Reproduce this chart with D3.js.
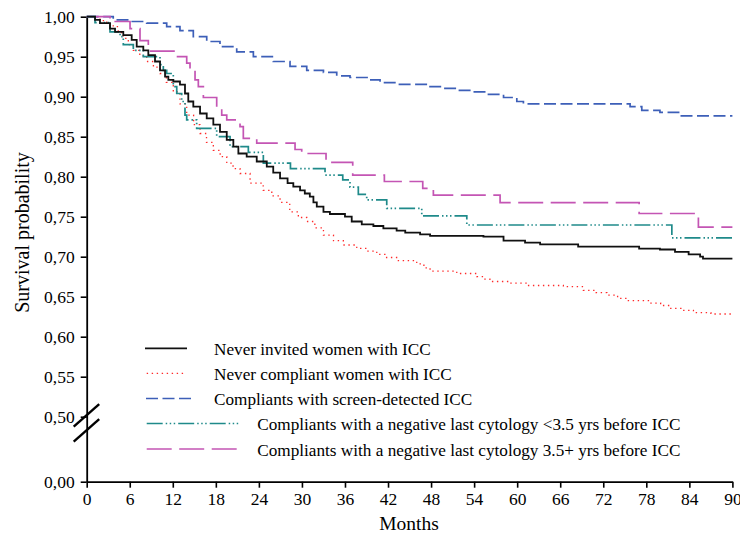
<!DOCTYPE html>
<html>
<head>
<meta charset="utf-8">
<script src="https://cdn.jsdelivr.net/npm/d3@7"></script>
<style>
  html, body { margin: 0; padding: 0; background: #fff; }
  svg { display: block; }
  text { font-family: "Liberation Serif", "Times New Roman", serif; fill: #000; }
</style>
</head>
<body>
<svg id="chart" width="740" height="534"></svg>
<script>
// Kaplan-Meier survival estimates: [month, survival probability] at each step
const neverInvited = [
  [0, 1], [1.16, 0.996], [1.85, 0.992], [3.25, 0.985], [3.95, 0.981], [5.1, 0.977], [6.27, 0.971],
  [6.97, 0.9625], [7.89, 0.958], [8.59, 0.952], [9.52, 0.944], [10.22, 0.933], [10.92, 0.925],
  [11.38, 0.921], [12.07, 0.919], [13.0, 0.915], [13.7, 0.904], [14.16, 0.894], [14.86, 0.8875],
  [15.8, 0.879], [16.73, 0.873], [17.65, 0.865], [18.58, 0.856], [19.52, 0.846], [20.44, 0.8375],
  [21.14, 0.829], [22.3, 0.825], [23.7, 0.819], [25.1, 0.8125], [26.0, 0.805], [26.95, 0.798],
  [28.0, 0.792], [28.8, 0.7875], [29.74, 0.783], [30.4, 0.779], [31.1, 0.775], [31.6, 0.768],
  [32.07, 0.7625], [33.0, 0.756], [33.9, 0.7534], [36.0, 0.75], [36.94, 0.744], [38.34, 0.7404],
  [39.96, 0.7384], [41.35, 0.7354], [43.2, 0.7325], [44.4, 0.73], [46.47, 0.728], [47.86, 0.726],
  [55.3, 0.725], [58.1, 0.72], [61.1, 0.7175], [63.2, 0.7155], [68.5, 0.7125], [77.0, 0.71],
  [79.9, 0.709], [82.0, 0.706], [83.9, 0.703], [85.5, 0.70], [85.9, 0.6975], [90, 0.6975]
];
const neverCompliant = [
  [0, 1], [1.85, 0.995], [2.8, 0.991], [3.7, 0.9875], [4.4, 0.98], [5.1, 0.973], [5.8, 0.965],
  [6.5, 0.958], [7.4, 0.951], [8.36, 0.944], [9.3, 0.937], [10.22, 0.929], [11.1, 0.918],
  [12.07, 0.906], [13.0, 0.891], [13.94, 0.877], [14.9, 0.865], [15.8, 0.854], [16.7, 0.843],
  [17.65, 0.833], [18.6, 0.825], [19.52, 0.817], [20.4, 0.81], [21.37, 0.804], [22.77, 0.792],
  [24.6, 0.783], [25.8, 0.776], [26.95, 0.768], [28.3, 0.756], [29.5, 0.749], [30.67, 0.744],
  [31.8, 0.736], [33.0, 0.727], [34.4, 0.72], [35.77, 0.7146], [37.64, 0.7104], [39.0, 0.707],
  [40.43, 0.703], [41.8, 0.699], [43.2, 0.695], [46.0, 0.691], [47.0, 0.686], [47.86, 0.682],
  [51.58, 0.679], [54.37, 0.675], [55.3, 0.672], [56.2, 0.669], [59.0, 0.667], [61.34, 0.664],
  [66.44, 0.6625], [69.23, 0.658], [71.0, 0.655], [72.5, 0.652], [74.0, 0.648], [75.28, 0.645],
  [78.53, 0.642], [80.0, 0.639], [81.3, 0.6355], [83.0, 0.633], [84.57, 0.63], [87.0, 0.6284],
  [90, 0.6284]
];
const screenDetected = [
  [0, 1], [3.7, 0.996], [6.04, 0.994], [8.36, 0.992], [11.15, 0.9875], [13.0, 0.9825],
  [14.86, 0.975], [16.73, 0.969], [18.58, 0.9625], [20.91, 0.956], [23.23, 0.95], [26.0, 0.944],
  [28.34, 0.9379], [30.67, 0.933], [33.0, 0.9304], [34.85, 0.926], [36.7, 0.924], [39.26, 0.921],
  [40.89, 0.9175], [43.2, 0.9155], [47.6, 0.9125], [49.7, 0.9105], [51.8, 0.908], [53.9, 0.906],
  [56.0, 0.903], [58.1, 0.899], [59.95, 0.894], [60.87, 0.891], [75.74, 0.8875], [77.37, 0.883],
  [79.9, 0.8804], [82.5, 0.876], [90, 0.876]
];
const negativeUnder35 = [
  [0, 1], [1.16, 0.9925], [3.25, 0.981], [4.65, 0.975], [5.1, 0.965], [6.5, 0.958], [7.89, 0.95],
  [10.22, 0.94], [10.68, 0.933], [11.15, 0.929], [12.07, 0.9125], [12.55, 0.904], [13.24, 0.894],
  [13.7, 0.877], [13.94, 0.871], [15.33, 0.8605], [18.12, 0.85], [19.98, 0.8375], [22.53, 0.8305],
  [24.62, 0.817], [28.4, 0.81], [33.22, 0.802], [35.69, 0.796], [36.7, 0.787], [37.86, 0.778],
  [39.03, 0.771], [41.82, 0.7605], [46.7, 0.751], [52.98, 0.7396], [81.56, 0.7235], [90, 0.7235]
];
const negativeOver35 = [
  [0, 1], [3.25, 0.994], [6.04, 0.985], [7.43, 0.97], [8.59, 0.957], [12.3, 0.95], [13.94, 0.942],
  [14.4, 0.933], [15.1, 0.921], [15.56, 0.9125], [16.26, 0.899], [18.12, 0.887], [18.82, 0.877],
  [19.52, 0.871], [21.37, 0.8625], [21.83, 0.848], [23.7, 0.842], [29.04, 0.834], [29.97, 0.829],
  [33.36, 0.818], [37.08, 0.802], [41.49, 0.794], [46.84, 0.7855], [48.32, 0.777], [57.62, 0.7675],
  [77.0, 0.754], [85.26, 0.737], [90, 0.737]
];

const seriesLabels = [
  "Never invited women with ICC",
  "Never compliant women with ICC",
  "Compliants with screen-detected ICC",
  "Compliants with a negative last cytology <3.5 yrs before ICC",
  "Compliants with a negative last cytology 3.5+ yrs before ICC"
];
const monthTicks = d3.range(0, 91, 6);
const survivalTicks = [0, 0.5, 0.55, 0.6, 0.65, 0.7, 0.75, 0.8, 0.85, 0.9, 0.95, 1.0];

// Drawing styles, one per series
const styles = [
  { color: "#111111", dash: null, width: 1.8 },
  { color: "#ff2a2a", dash: "1.4,3.6", width: 1.3 },
  { color: "#3d5fb8", dash: "12,4.5", width: 1.7 },
  { color: "#1f8a8a", dash: "16,3,1.5,2.5,1.5,2.5,1.5,3", width: 1.7 },
  { color: "#c455b4", dash: "25,7.5", width: 1.7 }
];
const allSeries = [neverInvited, neverCompliant, screenDetected, negativeUnder35, negativeOver35];

const svg = d3.select("#chart");
svg.append("rect").attr("width", 740).attr("height", 534).attr("fill", "#fff");

// Broken y axis: 0 sits just below the 0.50-1.00 segment
const x = d3.scaleLinear().domain([0, 90]).range([86.7, 732.4]);
const y = d3.scaleLinear().domain([0, 0.5, 1]).range([481.7, 416.7, 16.7]);

const comma = d3.formatLocale({ decimal: ",", thousands: ".", grouping: [3], currency: ["", ""] }).format(".2f");

const xAxis = svg.append("g")
  .attr("transform", `translate(0,${y(0)})`)
  .call(d3.axisBottom(x).tickValues(monthTicks).tickSize(6).tickSizeOuter(0).tickPadding(5));
const yAxis = svg.append("g")
  .attr("transform", `translate(${x(0)},0)`)
  .call(d3.axisLeft(y).tickValues(survivalTicks).tickFormat(comma).tickSize(6).tickSizeOuter(0).tickPadding(6));

[xAxis, yAxis].forEach(g => {
  g.select(".domain").attr("stroke", "#000").attr("stroke-width", 1.8);
  g.selectAll(".tick line").attr("stroke", "#000").attr("stroke-width", 1.6);
  g.selectAll(".tick text").style("font-family", "'Liberation Serif', 'Times New Roman', serif")
    .style("font-size", "17.5px").attr("fill", "#000");
});
yAxis.selectAll(".tick text").attr("dy", "0.34em");

// Axis break marks between 0 and 0.50
const bx = x(0);
const by1 = y(0.5) - 1.5, by2 = y(0.5) + 13.5;
[by1, by2].forEach(cy => {
  svg.append("line")
    .attr("x1", bx - 13).attr("y1", cy + 11.5)
    .attr("x2", bx + 12.5).attr("y2", cy - 11)
    .attr("stroke", "#000").attr("stroke-width", 2.4);
});

// Survival curves
const line = d3.line().x(d => x(d[0])).y(d => y(d[1])).curve(d3.curveStepAfter);
// draw so the black curve sits on top
[1, 2, 4, 3, 0].forEach(i => {
  svg.append("path")
    .datum(allSeries[i])
    .attr("d", line)
    .attr("fill", "none")
    .attr("stroke", styles[i].color)
    .attr("stroke-width", styles[i].width)
    .attr("stroke-dasharray", styles[i].dash)
    .attr("stroke-linejoin", "miter");
});

// Legend
const legendRows = [
  { x1: 145, x2: 187, tx: 214, y: 348.3 },
  { x1: 146.7, x2: 186, tx: 214, y: 373.3 },
  { x1: 146, x2: 192.7, tx: 214, y: 398.5 },
  { x1: 146.7, x2: 238.5, tx: 257.3, y: 423.5 },
  { x1: 146.7, x2: 237, tx: 257.3, y: 449 }
];
const legend = svg.append("g");
seriesLabels.forEach((label, i) => {
  const r = legendRows[i];
  legend.append("line")
    .attr("x1", r.x1).attr("x2", r.x2).attr("y1", r.y).attr("y2", r.y)
    .attr("stroke", styles[i].color)
    .attr("stroke-width", styles[i].width)
    .attr("stroke-dasharray", styles[i].dash);
  legend.append("text")
    .attr("x", r.tx).attr("y", r.y + 6.5)
    .style("font-size", "17.2px")
    .text(label);
});

// Axis titles
svg.append("text")
  .attr("x", 409).attr("y", 530)
  .attr("text-anchor", "middle")
  .style("font-size", "19.5px")
  .text("Months");
svg.append("text")
  .attr("transform", "translate(29,232.5) rotate(-90)")
  .attr("text-anchor", "middle")
  .style("font-size", "20px")
  .text("Survival probability");
</script>
</body>
</html>
